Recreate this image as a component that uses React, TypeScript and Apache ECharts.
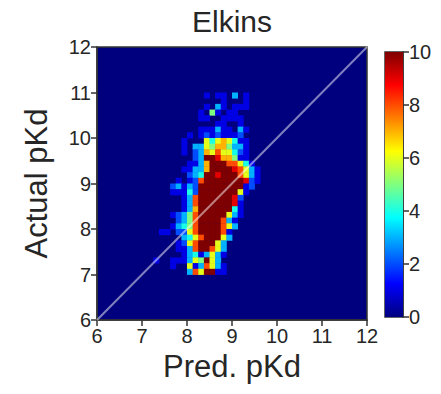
import { useEffect, useRef } from "react";
import * as echarts from "echarts";

// 2D histogram of (Pred. pKd, Actual pKd), bins of 0.125 on both axes
const BIN = 0.125;
const COL_X0 = 7.25; // left edge (Pred. pKd) of the first column
const ROW_Y0 = 10.875; // bottom edge (Actual pKd) of the first (top) row

// rows from top (Actual pKd 10.875) downward, 20 columns from Pred. pKd 7.25
const counts: number[][] = [
  [0,0,0,0,0,0,0,0,0,1,0,1,1,0,3,0,1,0,0,0],
  [0,0,0,0,0,0,0,0,0,0,0,0,1,0,0,0,1,0,0,0],
  [0,0,0,0,0,0,0,0,0,1,0,3,1,0,1,1,1,0,0,0],
  [0,0,0,0,0,0,0,0,1,0,5,1,0,1,1,0,0,0,0,0],
  [0,0,0,0,0,0,0,0,1,1,0,0,1,1,1,1,0,0,0,0],
  [0,0,0,0,0,0,0,0,0,0,0,1,1,0,0,1,0,0,0,0],
  [0,0,0,0,0,0,0,0,1,1,1,3,1,1,0,3,1,0,0,0],
  [0,0,0,0,0,0,1,0,1,2,1,2,1,1,1,2,0,0,0,0],
  [0,0,0,0,0,1,0,0,0,6,4,6,7,6,4,1,1,0,0,0],
  [0,0,0,0,0,1,0,3,3,6,5,7,7,5,3,3,1,0,0,0],
  [0,0,0,0,0,1,0,2,3,7,6,8,6,6,4,2,1,0,0,0],
  [0,0,0,0,0,0,0,2,3,10,10,9,7,7,5,1,1,0,0,0],
  [0,0,0,0,0,0,1,1,3,7,10,10,10,8,8,6,4,1,0,0],
  [0,0,0,0,0,1,1,3,3,7,10,10,10,10,9,8,6,3,1,0],
  [0,0,0,0,0,0,2,3,4,10,10,9,10,10,10,8,6,3,1,0],
  [0,0,0,0,1,0,1,2,8,10,10,10,10,10,10,10,9,2,1,0],
  [0,0,0,2,3,1,3,2,10,10,10,10,10,10,10,10,1,2,0,0],
  [0,0,0,1,1,1,4,2,10,10,10,10,10,10,10,6,1,0,0,0],
  [0,0,0,0,0,1,3,8,10,10,10,10,10,10,9,2,0,0,0,0],
  [0,0,0,0,0,1,3,8,10,10,10,10,10,10,9,1,0,0,0,0],
  [0,0,0,0,0,1,3,7,10,10,10,10,10,10,4,1,0,0,0,0],
  [0,0,0,1,2,3,5,8,10,10,10,10,10,6,3,1,0,0,0,0],
  [0,0,0,0,2,3,5,8,10,10,10,10,8,3,1,0,0,0,0,0],
  [0,0,0,1,3,4,5,8,10,10,10,10,8,6,3,0,0,0,0,0],
  [0,1,1,0,2,2,6,8,10,10,10,10,8,1,0,0,0,0,0,0],
  [0,0,0,0,0,3,4,6,8,10,10,10,6,3,0,0,0,0,0,0],
  [0,0,0,0,1,2,6,8,10,10,10,6,3,0,0,0,0,0,0,0],
  [0,0,0,0,1,1,3,8,10,10,8,6,3,0,0,0,0,0,0,0],
  [0,0,0,0,0,1,3,4,1,3,6,3,1,0,0,0,0,0,0,0],
  [1,0,0,1,1,1,3,6,5,10,6,3,0,0,0,0,0,0,0,0],
  [0,0,0,1,0,0,6,1,3,8,6,3,1,0,0,0,0,0,0,0],
  [0,0,0,0,0,0,3,8,6,10,10,1,1,0,0,0,0,0,0,0],
];

const axisMin = 6;
const axisMax = 12;
const colorMin = 0;
const colorMax = 10;
const identityLine = [
  [6, 6],
  [12, 12],
];

const jet = [
  "#00007f",
  "#0000ff",
  "#007fff",
  "#00ffff",
  "#7fff7f",
  "#ffff00",
  "#ff7f00",
  "#ff0000",
  "#7f0000",
];

const FONT = "'Liberation Sans', Arial, Helvetica, sans-serif";
const TXT = "#262626";
const LINE = "#333333";

export default function App() {
  const ref = useRef<HTMLDivElement>(null);

  useEffect(() => {
    if (!ref.current) return;
    const chart = echarts.init(ref.current, null, { renderer: "svg" });

    const cells: number[][] = [];
    counts.forEach((row, i) =>
      row.forEach((v, j) => {
        if (v > 0) cells.push([COL_X0 + j * BIN, ROW_Y0 - i * BIN, v]);
      })
    );

    const axisCommon = {
      axisLine: { show: true, onZero: false, lineStyle: { color: LINE, width: 1.5 } },
      axisTick: { show: true, length: 6, lineStyle: { color: LINE, width: 1.5 } },
      axisLabel: { fontSize: 20, color: TXT, fontFamily: FONT, margin: 6 },
      splitLine: { show: false },
    };

    chart.setOption({
      animation: false,
      backgroundColor: "#ffffff",
      textStyle: { fontFamily: FONT },
      title: {
        text: "Elkins",
        left: 232,
        top: 6,
        textAlign: "center",
        padding: 0,
        textStyle: { fontSize: 30, fontWeight: "normal", color: TXT, fontFamily: FONT },
      },
      grid: [
        {
          left: 97,
          top: 47,
          width: 270,
          height: 273,
          show: true,
          backgroundColor: jet[0],
          borderColor: LINE,
          borderWidth: 1.5,
        },
        {
          left: 385,
          top: 52,
          width: 18,
          height: 265,
          show: true,
          backgroundColor: "transparent",
          borderColor: LINE,
          borderWidth: 1.5,
        },
      ],
      xAxis: [
        {
          type: "value",
          gridIndex: 0,
          min: axisMin,
          max: axisMax,
          interval: 1,
          name: "Pred. pKd",
          nameLocation: "middle",
          nameGap: 26,
          nameTextStyle: { fontSize: 31, color: TXT, fontFamily: FONT },
          ...axisCommon,
        },
        { type: "category", gridIndex: 1, data: [""], show: false },
      ],
      yAxis: [
        {
          type: "value",
          gridIndex: 0,
          min: axisMin,
          max: axisMax,
          interval: 1,
          name: "Actual pKd",
          nameLocation: "middle",
          nameGap: 45,
          nameRotate: 90,
          nameTextStyle: { fontSize: 31, color: TXT, fontFamily: FONT },
          ...axisCommon,
        },
        {
          type: "value",
          gridIndex: 1,
          min: colorMin,
          max: colorMax,
          interval: 2,
          position: "right",
          ...axisCommon,
        },
      ],
      visualMap: {
        show: false,
        type: "continuous",
        min: colorMin,
        max: colorMax,
        dimension: 2,
        seriesIndex: 0,
        inRange: { color: jet },
      },
      series: [
        {
          type: "custom",
          xAxisIndex: 0,
          yAxisIndex: 0,
          data: cells,
          encode: { x: 0, y: 1 },
          renderItem: (_params: any, api: any) => {
            const x = api.value(0);
            const y = api.value(1);
            const p0 = api.coord([x, y + BIN]);
            const p1 = api.coord([x + BIN, y]);
            return {
              type: "rect",
              shape: {
                x: p0[0],
                y: p0[1],
                width: p1[0] - p0[0] + 0.4,
                height: p1[1] - p0[1] + 0.4,
              },
              style: { fill: api.visual("color") },
            };
          },
        },
        {
          type: "line",
          xAxisIndex: 0,
          yAxisIndex: 0,
          data: identityLine,
          symbol: "none",
          silent: true,
          z: 5,
          lineStyle: { color: "rgba(255,255,255,0.5)", width: 2 },
        },
        {
          type: "bar",
          xAxisIndex: 1,
          yAxisIndex: 1,
          data: [colorMax],
          barWidth: "100%",
          silent: true,
          itemStyle: {
            color: new echarts.graphic.LinearGradient(
              0,
              1,
              0,
              0,
              jet.map((c, i) => ({ offset: i / (jet.length - 1), color: c }))
            ),
          },
        },
      ],
    });

    return () => chart.dispose();
  }, []);

  return (
    <div
      ref={ref}
      style={{ position: "fixed", left: 0, top: 0, width: 441, height: 394 }}
    />
  );
}
